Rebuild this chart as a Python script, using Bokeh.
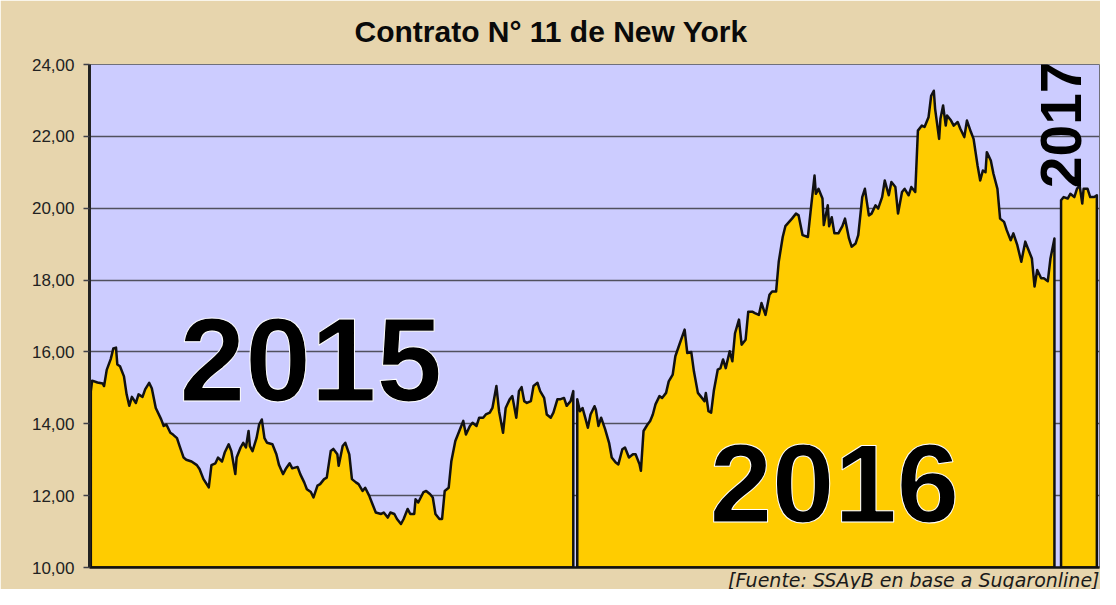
import math
from bokeh.plotting import figure
from bokeh.models import Range1d, FixedTicker, Title, ColumnDataSource
from bokeh.embed import file_html
from bokeh.resources import INLINE
from bokeh.core.properties import value

# ---- data: days since 2015-01-01, price (US cents/lb) ----
days_2015 = [1,2,6,10,11,13,16,18,20,21,23,26,28,30,32,35,37,40,42,45,
             47,50,54,56,58,61,63,66,68,71,73,77,81,83,86,90,92,95,97,100,
             102,105,107,110,111,114,116,118,120,121,123,126,128,130,132,134,138,141,143,146,
             148,151,153,157,159,162,164,167,169,172,174,177,179,182,184,187,188,191,193,196,
             198,201,203,206,208,211,213,216,220,222,225,227,230,232,235,237,240,242,245,246,
             248,252,254,257,259,261,264,266,268,271,273,276,279,282,284,287,289,292,294,297,
             299,302,304,307,309,312,314,317,319,322,324,326,328,330,333,335,338,340,343,345,
             348,350,353,355,358,360,363,365]
price_2015 = [14.9,15.2,15.15,15.12,15.05,15.5,15.8,16.1,16.12,15.65,
              15.6,15.32,14.82,14.5,14.75,14.58,14.82,14.75,14.96,15.14,
              14.99,14.44,14.13,13.94,13.98,13.75,13.7,13.6,13.38,13.06,
              13.0,12.95,12.85,12.74,12.46,12.23,12.85,12.9,13.06,12.95,
              13.2,13.43,13.24,12.6,13.06,13.34,13.47,13.34,13.8,13.38,
              13.24,13.6,13.98,14.12,13.6,13.47,13.43,13.15,12.85,12.6,
              12.74,12.9,12.76,12.8,12.6,12.37,12.18,12.1,11.95,12.28,
              12.32,12.46,12.5,13.24,13.3,13.15,12.83,13.38,13.47,13.15,
              12.46,12.37,12.32,12.13,12.22,12.0,11.81,11.53,11.49,11.53,
              11.39,11.53,11.49,11.35,11.21,11.35,11.63,11.49,11.49,11.9,
              11.81,12.1,12.13,12.04,11.95,11.49,11.35,11.35,12.13,12.22,
              12.96,13.52,13.8,14.08,13.7,13.94,14.03,13.94,14.17,14.17,
              14.26,14.31,14.44,15.05,14.35,13.75,14.44,14.68,14.77,14.17,
              14.91,15.02,14.63,14.58,14.63,15.05,15.14,14.91,14.72,14.26,
              14.17,14.31,14.68,14.68,14.72,14.5,14.63,14.91]

days_2016 = [368,370,372,374,376,378,381,382,384,386,389,392,394,397,399,402,404,407,410,412,
             415,416,418,421,423,425,427,430,432,435,437,440,442,445,449,451,454,456,459,461,
             464,465,467,469,471,474,476,478,480,483,485,487,490,492,495,497,500,502,505,507,
             510,513,515,518,520,523,525,530,533,535,538,542,544,547,548,550,553,554,557,558,
             560,562,565,568,570,573,575,578,580,583,585,588,590,593,595,598,600,603,605,608,
             610,613,615,618,620,623,625,628,630,633,635,637,638,641,642,644,646,647,650,652,
             655,657,660,662,665,667,670,672,674,676,677,680,682,685,687,690,692,695,697,700,
             703,706,708,711,713,715,718,720,723,725,728]
price_2016 = [14.68,14.35,14.44,14.17,13.89,14.26,14.49,14.4,13.94,14.17,
              13.85,13.47,13.06,12.92,12.87,13.29,13.34,13.06,13.15,13.15,
              12.87,12.69,13.8,13.98,14.08,14.26,14.54,14.77,14.72,14.86,
              15.18,15.37,15.88,16.2,16.62,15.97,16.0,15.46,14.86,14.77,
              14.63,14.86,14.35,14.31,14.91,15.51,15.55,15.79,15.55,16.02,
              15.74,16.52,16.9,16.2,16.34,17.12,17.12,17.08,17.03,17.36,
              17.03,17.59,17.68,17.68,18.51,19.2,19.5,19.71,19.85,19.8,
              19.25,19.2,19.9,20.91,20.4,20.54,20.27,19.53,20.08,19.5,
              19.75,19.3,19.3,19.5,19.71,19.16,18.93,19.02,19.25,20.31,
              20.54,19.8,19.85,20.08,19.99,20.31,20.77,20.36,20.73,20.59,
              19.85,20.45,20.54,20.36,20.59,20.45,22.16,22.3,22.26,22.53,
              23.13,23.27,22.76,21.93,22.49,22.86,22.3,22.58,22.44,22.3,
              22.4,22.21,21.98,22.44,22.12,21.93,21.19,20.77,21.05,21.0,
              21.56,21.33,20.96,20.54,19.71,19.62,19.39,19.11,19.3,18.97,
              18.51,19.07,18.88,18.6,17.82,18.28,18.05,18.05,17.97,18.6,
              19.16]

days_2017 = [733,735,738,740,743,745,747,749,750,753,755,758,760]
price_2017 = [20.22,20.31,20.27,20.4,20.31,20.54,20.63,20.13,20.54,20.54,20.31,20.31,20.36]

y_ticks = [10, 12, 14, 16, 18, 20, 22, 24]
y_tick_labels = ["10,00", "12,00", "14,00", "16,00", "18,00", "20,00", "22,00", "24,00"]

title_text = "Contrato N° 11 de New York"
year_labels = ["2015", "2016", "2017"]
source_text = "[Fuente: SSAyB en base a Sugaronline]"

BASE = 10

p = figure(width=1100, height=589, output_backend="svg", toolbar_location=None,
           x_range=Range1d(0, 762), y_range=Range1d(BASE, 24),
           min_border_left=89, min_border_right=1, min_border_top=64, min_border_bottom=20)
p.background_fill_color = "#CCCCFF"
p.border_fill_color = "#E7D5AD"
p.outline_line_color = "#70707a"
p.outline_line_width = 1

p.title.text = title_text
p.title.align = "left"
p.title.offset = 265
p.title.vertical_align = "top"
p.title.text_font = "Liberation Sans"
p.title.text_font_style = "bold"
p.title.text_font_size = "30px"
p.title.text_color = "#0a0a0a"
p.title.standoff = 29

p.xgrid.visible = False
p.ygrid.grid_line_color = "#50505e"
p.ygrid.grid_line_width = 1.5

p.yaxis.ticker = FixedTicker(ticks=y_ticks)
p.yaxis.major_label_overrides = {t: l for t, l in zip(y_ticks, y_tick_labels)}
p.yaxis.major_label_text_font = "Liberation Sans"
p.yaxis.major_label_text_font_size = "17px"
p.yaxis.major_label_text_color = "#222222"
p.yaxis.major_label_standoff = 9
p.yaxis.major_tick_out = 6
p.yaxis.major_tick_in = 0
p.yaxis.minor_tick_out = 0
p.yaxis.minor_tick_in = 0
p.yaxis.major_tick_line_color = "#404048"
p.yaxis.major_tick_line_width = 1.5
p.yaxis.axis_line_color = "#222222"
p.yaxis.axis_line_width = 3

p.xaxis.ticker = FixedTicker(ticks=[])
p.xaxis.major_tick_out = 0
p.xaxis.major_tick_in = 0
p.xaxis.minor_tick_out = 0
p.xaxis.minor_tick_in = 0
p.xaxis.major_label_standoff = 0
p.xaxis.axis_line_color = "#111111"
p.xaxis.axis_line_width = 2.5

src = Title(text=source_text, align="right", text_font="DejaVu Sans",
            text_font_style="italic", text_font_size="19px", text_color="#1a1a1a",
            standoff=-2, offset=0)
p.add_layout(src, "below")

for d, v in [(days_2015, price_2015), (days_2016, price_2016), (days_2017, price_2017)]:
    xs = [d[0]] + d + [d[-1]]
    ys = [BASE] + v + [BASE]
    p.patch(xs, ys, fill_color="#FFCC00", line_color="#111111", line_width=2.5,
            line_join="round")

years = ColumnDataSource(dict(
    x=[167, 562],
    y=[15.77, 12.34],
    text=year_labels[:2],
    size=["118px", "112px"],
))
p.text(x="x", y="y", text="text", source=years,
       text_font=value("Liberation Sans"), text_font_style="bold",
       text_font_size="size", text_color="#000000", text_outline_color="#ffffff",
       text_align="center", text_baseline="alphabetic")

year17 = ColumnDataSource(dict(x=[733], y=[22.32], text=year_labels[2:]))
p.text(x="x", y="y", text="text", source=year17, angle=math.pi / 2,
       text_font=value("Liberation Sans"), text_font_style="bold",
       text_font_size="57px", text_color="#000000",
       text_align="center", text_baseline="alphabetic")

open("out.html", "w").write(file_html(p, INLINE))
